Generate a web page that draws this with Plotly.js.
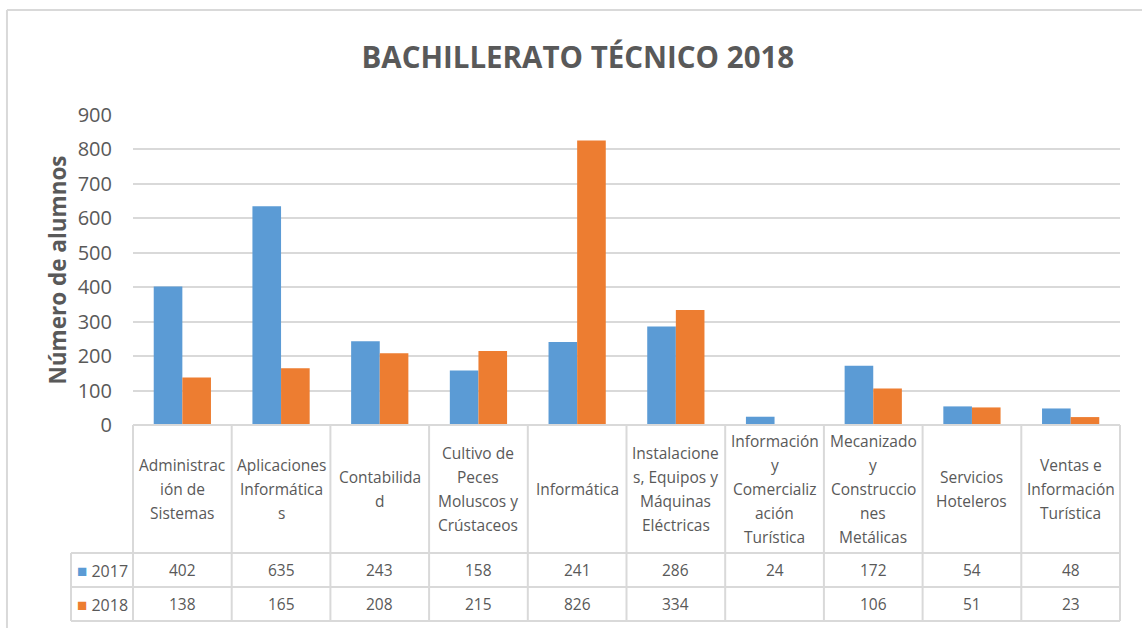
<!DOCTYPE html>
<html>
<head>
<meta charset="utf-8">
<script src="https://cdn.plot.ly/plotly-3.0.1.min.js"></script>
<style>
  html, body { margin: 0; padding: 0; background: #fff; }
  #chart { width: 1142px; height: 628px; }
</style>
</head>
<body>
<div id="chart"></div>
<script>
// data
const categories = [
  'Administración de Sistemas',
  'Aplicaciones Informáticas',
  'Contabilidad',
  'Cultivo de Peces Moluscos y Crústaceos',
  'Informática',
  'Instalaciones, Equipos y Máquinas Eléctricas',
  'Información y Comercialización Turística',
  'Mecanizado y Construcciones Metálicas',
  'Servicios Hoteleros',
  'Ventas e Información Turística'
];
// labels wrapped the way Excel wraps them in the data table
const tableLabels = [
  'Administrac<br>ión de<br>Sistemas',
  'Aplicaciones<br>Informática<br>s',
  'Contabilida<br>d',
  'Cultivo de<br>Peces<br>Moluscos y<br>Crústaceos',
  'Informática',
  'Instalacione<br>s, Equipos y<br>Máquinas<br>Eléctricas',
  'Información<br>y<br>Comercializ<br>ación<br>Turística',
  'Mecanizado<br>y<br>Construccio<br>nes<br>Metálicas',
  'Servicios<br>Hoteleros',
  'Ventas e<br>Información<br>Turística'
];
const alumnos2017 = [402, 635, 243, 158, 241, 286, 24, 172, 54, 48];
const alumnos2018 = [138, 165, 208, 215, 826, 334, null, 106, 51, 23];
const yTicks = [0, 100, 200, 300, 400, 500, 600, 700, 800, 900];

const blue = '#5B9BD5';
const orange = '#ED7D31';
const grey = '#595959';
const lineGrey = '#D9D9D9';
const font = 'Open Sans, sans-serif';

// table row boundaries (paper units, below the plot area)
const rowHead = -0.4129, row17 = -0.5226, row18 = -0.6323;
const legendLeft = -0.0628;
const lineGap = 24; // Excel's line height in the header cells

const data = [
  { type: 'bar', name: '2017', x: categories, y: alumnos2017, marker: { color: blue } },
  { type: 'bar', name: '2018', x: categories, y: alumnos2018, marker: { color: orange } }
];

const shapes = [];
const line = (x0, y0, x1, y1) => shapes.push({
  type: 'line', xref: 'paper', yref: 'paper', x0, y0, x1, y1,
  line: { color: lineGrey, width: 2 }, layer: 'above'
});
// chart frame (left and top edges only are visible)
line(-0.1277, 1.3387, 1.1, 1.3387);
line(-0.1277, 1.3387, -0.1277, -0.7);
// data table grid
line(0, 0, 1, 0);
categories.forEach((c, i) => line((i + 1) / categories.length, 0, (i + 1) / categories.length, row18));
line(0, 0, 0, row18);
line(legendLeft, rowHead, legendLeft, row18);
[rowHead, row17, row18].forEach(y => line(legendLeft, y, 1, y));

const annotations = [];
const cell = (x, y, text, extra) => annotations.push(Object.assign({
  x, xref: 'x', y, yref: 'paper', xanchor: 'center', yanchor: 'middle',
  text, showarrow: false, font: { family: font, size: 15.5, color: grey }
}, extra || {}));

categories.forEach((c, i) => {
  const parts = tableLabels[i].split('<br>');
  parts.forEach((p, j) => {
    cell(c, rowHead / 2, p, { yshift: ((parts.length - 1) / 2 - j) * lineGap });
  });
  cell(c, (rowHead + row17) / 2, alumnos2017[i] == null ? '' : String(alumnos2017[i]));
  cell(c, (row17 + row18) / 2, alumnos2018[i] == null ? '' : String(alumnos2018[i]));
});
[['2017', blue, (rowHead + row17) / 2], ['2018', orange, (row17 + row18) / 2]].forEach(([s, col, y]) => {
  cell(legendLeft + 0.004, y, '<span style="color:' + col + ';font-size:17px">■</span> ' + s,
    { xref: 'paper', xanchor: 'left', font: { family: font, size: 16, color: grey } });
});

const layout = {
  width: 1142, height: 628,
  margin: { l: 133, r: 22, t: 115, b: 203 },
  paper_bgcolor: '#fff', plot_bgcolor: '#fff',
  showlegend: false,
  barmode: 'group', bargap: 0.42, bargroupgap: 0,
  title: {
    text: '<b>BACHILLERATO TÉCNICO 2018</b>',
    x: 0.506, xanchor: 'center', y: 0.908, yanchor: 'middle',
    font: { family: font, size: 29.5, color: grey }
  },
  xaxis: {
    type: 'category', showticklabels: false, showgrid: false,
    zeroline: false, showline: false, ticks: ''
  },
  yaxis: {
    range: [0, 900], tickvals: yTicks, ticks: '',
    gridcolor: lineGrey, gridwidth: 2, zeroline: false, showline: false,
    ticklabelstandoff: 20,
    tickfont: { family: font, size: 20, color: grey },
    title: { text: '<b>Número de alumnos</b>', standoff: 4, font: { family: font, size: 22.5, color: grey } }
  },
  shapes, annotations
};

Plotly.newPlot('chart', data, layout, { displayModeBar: false, staticPlot: true });
</script>
</body>
</html>
